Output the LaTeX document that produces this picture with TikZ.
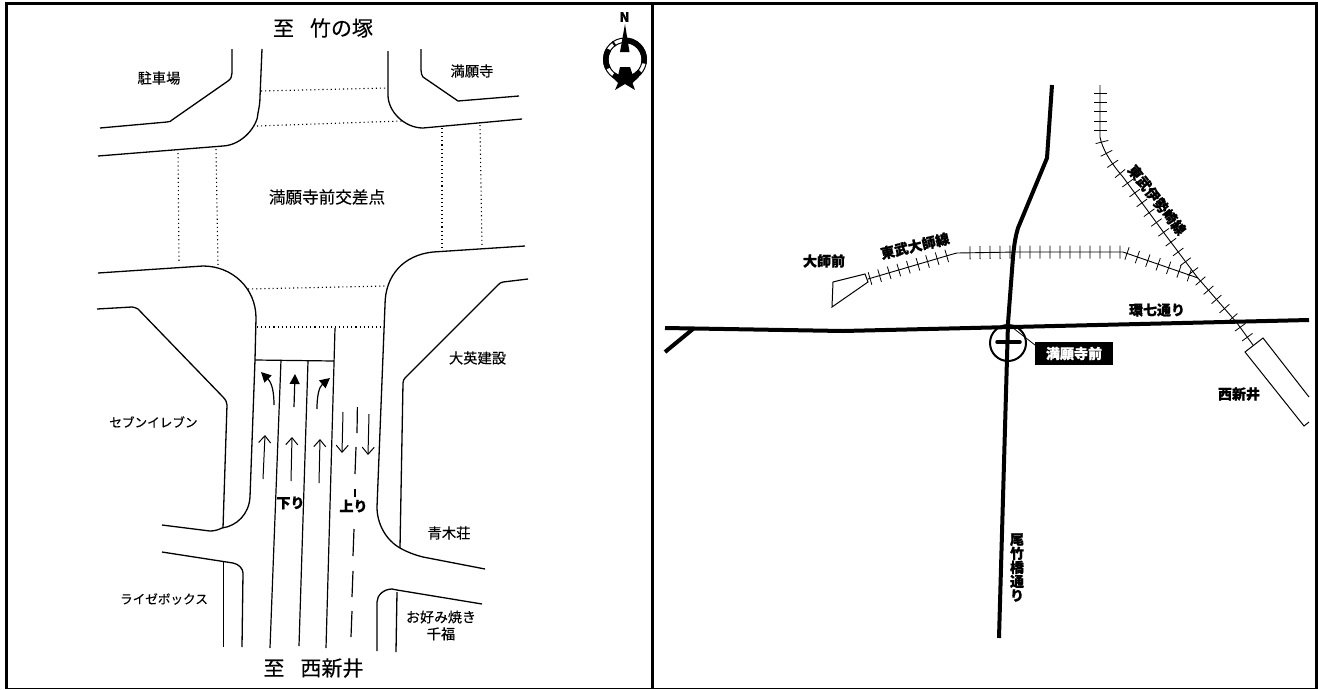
\documentclass[tikz,border=0pt]{standalone}
\usepackage{fontspec}
\setmainfont{Noto Sans CJK JP}[UprightFeatures={FakeBold=0.2},BoldFeatures={FakeBold=0.8}]
\usetikzlibrary{arrows.meta,decorations.pathreplacing}
\tikzset{
  kerb/.style={draw=black,line width=1.3pt,line join=round},
  cross/.style={draw=black,line width=1.1pt,dash pattern=on 1.1pt off 3pt},
  lane/.style={draw=black,line width=1.2pt},
  thinarrow/.style={draw=black,line width=1pt,-{Straight Barb[length=7pt,width=12pt,line width=1pt]}},
  fatarrow/.style={draw=black,line width=1.2pt,-{Triangle[length=10pt,width=10pt]}},
  road/.style={draw=black,line width=4pt,line join=round},
  rail/.style={draw=black,line width=0.9pt},
  ties/.style={draw=black,line width=0.8pt,decorate,decoration={ticks,segment length=#1,amplitude=6.5pt}},
  station/.style={draw=black,line width=1pt,fill=white,line join=miter},
  lab/.style={font=\fontsize{14.3pt}{17pt}\selectfont,inner sep=0pt},
  kana/.style={font=\fontsize{12.6pt}{14pt}\selectfont,inner sep=0pt},
  blab/.style={font=\fontsize{14pt}{14pt}\selectfont\bfseries,inner sep=0pt},
  title/.style={inner sep=0pt,font=\fontsize{21pt}{22pt}\selectfont},
}
\begin{document}
\begin{tikzpicture}[x=1pt,y=-1pt]
\useasboundingbox (0,0) rectangle (1318,689);
\fill[white] (0,0) rectangle (1318,689);
% frame
\draw[black,line width=3pt] (5,3.5) -- (1318,3.5);
\draw[black,line width=3pt] (6.3,2) -- (6.3,689);
\draw[black,line width=3pt] (652.5,3.5) -- (652.5,689);
\draw[black,line width=3pt] (1316.5,3.5) -- (1316.5,689);
\draw[black,line width=1pt] (5,688.5) -- (1318,688.5);
% kerbs left panel
\draw[kerb] (100,128) -- (167,122) .. controls (170,122) and (171,121) .. (172,120) -- (228,81) .. controls (231,79) and (232,76) .. (232,73) -- (232,49);
\draw[kerb] (98,156) -- (223,146) .. controls (243,145) and (258,125) .. (258,113) .. controls (259,108) and (260,103) .. (260,97) -- (262,49);
\draw[kerb] (388,51) -- (388,95) .. controls (388,112) and (405,128) .. (423,128) -- (522,119);
\draw[kerb] (421,49) -- (421,70) .. controls (421,73) and (422,76) .. (423,77) -- (458,101) -- (519,96);
\draw[kerb] (98,273) -- (203,266) .. controls (232,266) and (256,288) .. (256,318) -- (255,360) -- (250,497) .. controls (249,514) and (237,526) .. (222,528) .. controls (218,530) and (214,531) .. (210,531) -- (162,525);
\draw[kerb] (525,246) -- (433,252) .. controls (404,255) and (385,275) .. (385,305) -- (377,507) .. controls (377,524) and (386,540) .. (400,548) .. controls (407,552) and (415,555) .. (423,557) -- (485,569);
\draw[kerb] (97,309) -- (132,307) .. controls (134,307) and (136,308) .. (138,309) -- (223,397) .. controls (226,400) and (227,403) .. (227,405) -- (223,528);
\draw[kerb] (528,279) -- (503,282) .. controls (501,282) and (499,284) .. (498,285) -- (405,378) .. controls (404,379) and (403,381) .. (403,383) -- (400,548);
\draw[kerb] (162,552) -- (233,563) .. controls (239,564) and (243,569) .. (243,573) -- (242,647);
\draw[kerb] (223.4,562) -- (223.4,647);
\draw[kerb] (482,604) -- (397,590) -- (392,589) .. controls (384,589) and (377,595) .. (377,602) -- (377,651);
\draw[kerb] (397,592) -- (396,652);
% crossings
\draw[cross] (261,91) -- (387,88);
\draw[cross] (257,126) -- (402,121);
\draw[cross] (178,149) -- (179,262);
\draw[cross] (216,149) -- (218,265);
\draw[cross] (442,128) -- (442,250);
\draw[cross] (480,125) -- (482,247);
\draw[cross] (248,289) -- (385,286);
\draw[cross] (257,327) -- (383,327);
% lanes
\draw[lane] (335,328) -- (326,648);
\draw[lane] (255,360) -- (334,361);
\draw[lane] (281,360) -- (270,648);
\draw[lane] (308,361) -- (299,646);
\draw[lane] (357.4,407) -- (357,433);
\draw[lane] (356,447) -- (355,474);
\draw[lane] (355,489) -- (355,497);
\draw[lane] (354,529) -- (353,556);
\draw[lane] (353,571) -- (352,597);
\draw[lane] (352,611) -- (351,637);
% arrows
\draw[thinarrow] (263,479) -- (265,435);
\draw[thinarrow] (291,481) -- (292,437);
\draw[thinarrow] (319,483) -- (320,439);
\draw[thinarrow] (343,412) -- (342,453);
\draw[thinarrow] (369,414) -- (368,455);
\draw[fatarrow] (274,405) .. controls (274,392) and (272,383) .. (261,372);
\draw[fatarrow] (294,407) -- (295,374);
\draw[fatarrow] (317,409) .. controls (317,396) and (319,387) .. (330,378);
% labels left
\node[title] (tn) at (323,28) {至\hspace{16pt}竹の塚};
\node[title] (ts) at (313.5,668) {至\hspace{16pt}西新井};
\node[lab] (p1) at (159,78) {駐車場};
\node[lab] (p2) at (472,71) {満願寺};
\node[inner sep=0pt,font=\fontsize{16.6pt}{18pt}\selectfont] (p3) at (327,197) {満願寺前交差点};
\node[kana] (p4) at (153.5,422) {セブンイレブン};
\node[lab] (p5) at (477.5,358) {大英建設};
\node[lab] (p6) at (449,533) {青木荘};
\node[kana] (p7) at (164,599) {ライゼボックス};
\node[lab,align=center] (p8) at (441,625.5) {\fontsize{14pt}{17pt}\selectfont お好み焼き\\千福};
\node[blab] (p9) at (290.5,503) {下り};
\node[blab] (p10) at (353.5,506) {上り};
% compass
\fill[black] (625,24) -- (629.5,52) -- (620,52) -- cycle;
\node[inner sep=0pt,font=\fontsize{13pt}{13pt}\selectfont\bfseries] (cn) at (624.5,17) {N};
\begin{scope}[shift={(625,59.5)},y=1pt]
\draw[black,line width=1pt] (0,0) circle (21.5);
\draw[black,line width=1pt] (0,0) circle (17);
\draw[black,line width=5.5pt] (85:19.2) arc (85:-12:19.2);
\draw[black,line width=5.5pt] (-38:19.2) arc (-38:-70:19.2);
\draw[black,line width=5.5pt] (148:19.2) arc (148:208:19.2);
\draw[black,line width=5.5pt] (232:19.2) arc (232:250:19.2);
\draw[black,line width=5.5pt] (122:19.2) arc (122:128:19.2);
\end{scope}
\fill[black] (620,67) -- (630,67) -- (633,76) -- (639,77) -- (632.5,83) -- (635,90) -- (625,84) -- (615,90) -- (618,83) -- (613,78) -- (618,76) -- cycle;
% right panel
\draw[road] (1052,85) -- (1047,158) -- (1018,228) .. controls (1015,238) and (1014,247) .. (1013,257) -- (1008,323) -- (999,638);
\draw[road] (665,328) -- (843,331) -- (1309,320);
\draw[road] (693,329) -- (665,352);
\draw[draw=black,line width=2pt] (1008,343) circle (18);
\draw[draw=black,line width=3.5pt,line cap=round] (997,342) -- (1020,342);
\draw[black,line width=0.8pt] (1013,328) -- (1035,345);
\node[fill=black,text=white,font=\fontsize{14pt}{14pt}\selectfont\bfseries,minimum width=78pt,minimum height=23pt,inner sep=0pt] (st) at (1074,353.5) {満願寺前};
% rails
\path[ties=9.4pt] (1100,93) -- (1100,137);
\draw[rail] (1100,85) -- (1100,137) .. controls (1102,148) and (1110,162) .. (1123,177) -- (1167,237) -- (1197,277) -- (1237,323) -- (1253,345);
\path[ties=12.2pt] (1102,142) .. controls (1104,150) and (1110,162) .. (1123,177) -- (1167,237) -- (1197,277) -- (1237,323) -- (1253,345);
\draw[rail] (868,279) -- (953,254) -- (957,253) -- (1017,252) -- (1123,252) -- (1198,278);
\path[ties=10pt] (870,278.5) -- (953,254);
\path[ties=10pt] (970,252.8) -- (1017,252) -- (1120,252);
\path[ties=11pt] (1127,253.5) -- (1198,278);
\draw[station] (833,282) -- (865,274) -- (868,282) -- (832,307) -- cycle;
\draw[station] (1309,397) -- (1263,338) -- (1245,352) -- (1304,426) -- (1309,422);
\node[blab] (r1) at (824,261) {大師前};
\node[blab,rotate=13] (r2) at (915,246) {東武大師線};
\node[blab,rotate=-52] (r3) at (1157,200) {東武伊勢崎線};
\node[blab] (r4) at (1157,310) {環七通り};
\node[blab] (r5) at (1239,394) {西新井};
\node[blab,align=center] (r6) at (1017,567.5) {尾\\竹\\橋\\通\\り};
\end{tikzpicture}
\end{document}
